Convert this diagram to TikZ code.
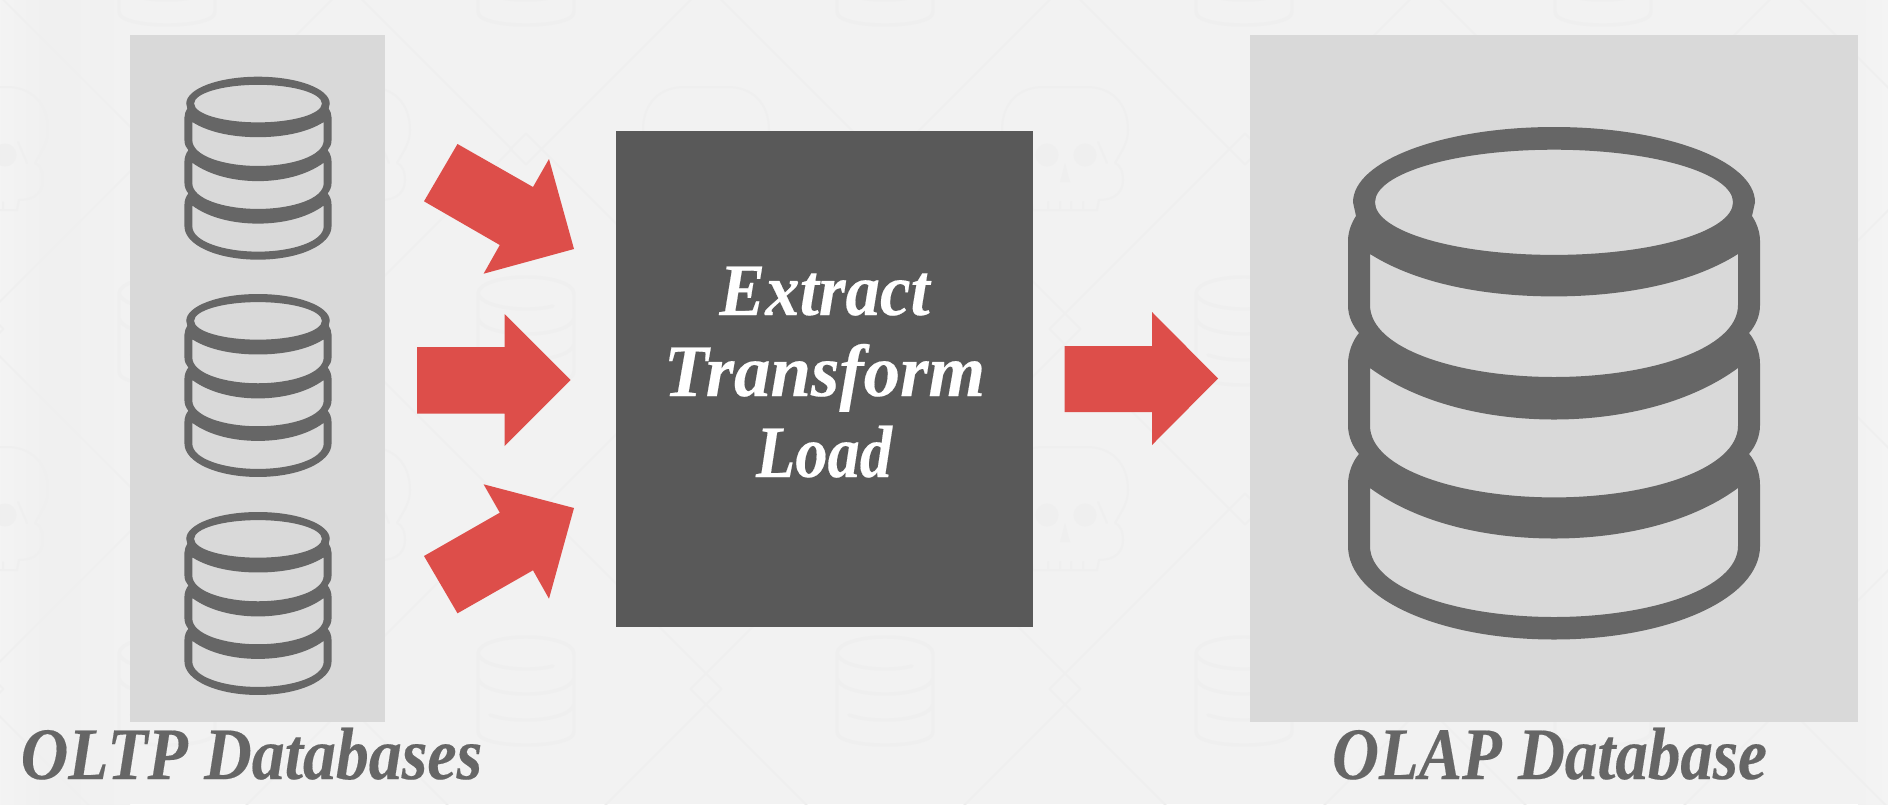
\documentclass[tikz,border=0pt]{standalone}
\usepackage{fontspec}
\usepackage{graphicx}
\setmainfont{Liberation Serif}
\newfontfamily\heavyf{Liberation Serif}[BoldItalicFeatures={FakeBold=0.25}]
\definecolor{bgc}{HTML}{F2F2F2}
\definecolor{wm}{HTML}{EFEFEF}
\definecolor{panelc}{HTML}{D9D9D9}
\definecolor{etlc}{HTML}{595959}
\definecolor{arrowc}{HTML}{DD4E4A}
\definecolor{dbdark}{HTML}{666666}
\tikzset{
  wmline/.style={draw=wm,line width=1pt,line join=round,line cap=round},
  panelbox/.style={fill=panelc,inner sep=0pt,draw=none},
  etlbox/.style={fill=etlc,inner sep=0pt,draw=none,minimum width=208.5pt,minimum height=248pt},
  blockarrow/.style={fill=arrowc,draw=none},
  labeltext/.style={font=\heavyf\fontsize{37}{37}\selectfont\bfseries\itshape,text=dbdark,anchor=base,inner sep=0pt},
  etltext/.style={font=\heavyf\fontsize{37}{37}\selectfont\bfseries\itshape,text=white,anchor=base,inner sep=0pt},
  bigdb/.pic={
    \fill[dbdark,even odd rule]
      (-198,89) -- (-201,75.3) .. controls (-201,33.7) and (-111,0) .. (0,0)
      .. controls (111,0) and (201,33.7) .. (201,75.3) -- (198,89)
      .. controls (202,95) and (206,104) .. (206,114) -- (206,178)
      .. controls (206,190) and (201,199) .. (195,206)
      .. controls (201,213) and (206,225) .. (206,237) -- (206,298)
      .. controls (206,310) and (201,320) .. (195,327)
      .. controls (201,334) and (206,345) .. (206,358) -- (206,419)
      .. controls (206,472) and (114,512.5) .. (0,512.5)
      .. controls (-114,512.5) and (-206,472) .. (-206,419) -- (-206,358)
      .. controls (-206,345) and (-201,334) .. (-195,327)
      .. controls (-201,320) and (-206,310) .. (-206,298) -- (-206,237)
      .. controls (-206,225) and (-201,213) .. (-195,206)
      .. controls (-201,199) and (-206,190) .. (-206,178) -- (-206,114)
      .. controls (-206,104) and (-202,95) .. (-198,89) -- cycle
      (-179,75.3) .. controls (-179,46.3) and (-98.9,22.7) .. (0,22.7)
      .. controls (98.9,22.7) and (179,46.3) .. (179,75.3)
      .. controls (179,104.3) and (98.9,127.9) .. (0,127.9)
      .. controls (-98.9,127.9) and (-179,104.3) .. (-179,75.3) -- cycle
      (-184,127) .. controls (-135,158) and (-65,169.4) .. (0,169.4)
      .. controls (65,169.4) and (135,158) .. (184,127) -- (184,178)
      .. controls (184,222) and (95,250) .. (0,250)
      .. controls (-95,250) and (-184,222) .. (-184,178) -- cycle
      (-184,241) .. controls (-135,277) and (-65,292.5) .. (0,292.5)
      .. controls (65,292.5) and (135,277) .. (184,241) -- (184,298.6)
      .. controls (184,342) and (95,370.4) .. (0,370.4)
      .. controls (-95,370.4) and (-184,342) .. (-184,298.6) -- cycle
      (-184,361) .. controls (-135,397) and (-65,411.5) .. (0,411.5)
      .. controls (65,411.5) and (135,397) .. (184,361) -- (184,419)
      .. controls (184,462) and (95,490) .. (0,490)
      .. controls (-95,490) and (-184,462) .. (-184,419) -- cycle;
  },
  wmdb/.pic={
    \draw[wmline,line width=1.7pt]
      (-48,17) .. controls (-48,7) and (-27,0) .. (0,0) .. controls (27,0) and (48,7) .. (48,17)
      -- (48,95) .. controls (48,103) and (27,108) .. (0,108) .. controls (-27,108) and (-48,103) .. (-48,95) -- cycle
      (-48,17) .. controls (-44,27) and (-22,32) .. (0,32) .. controls (10,32) and (20,31) .. (27,29)
      (-48,42) .. controls (-44,52) and (-22,57) .. (0,57) .. controls (22,57) and (44,52) .. (48,42)
      (-36,78) .. controls (-24,82) and (-12,83) .. (0,83) .. controls (22,83) and (44,78) .. (48,68);
  },
  wmskull/.pic={
    \draw[wmline]
      (-32,123) -- (32,123) -- (34,113) .. controls (50,113) and (58,105) .. (58,93)
      .. controls (58,84) and (55,78) .. (50,76) .. controls (58,62) and (63,55) .. (63,43)
      .. controls (63,15) and (45,0) .. (22,0) -- (-22,0)
      .. controls (-45,0) and (-63,15) .. (-63,43) .. controls (-63,55) and (-58,62) .. (-50,76)
      .. controls (-55,78) and (-58,84) .. (-58,93) .. controls (-58,105) and (-50,113) .. (-34,113) -- cycle
      (33,55) -- (42,76) (-33,55) -- (-42,76)
      (-17,115) -- (-17,123) (-5,115) -- (-5,123) (6,115) -- (6,123) (18,115) -- (18,123);
    \fill[wm] (-18,68) circle[radius=11.5] (20,68) circle[radius=11.5];
    \fill[wm] (0,76) -- (5,95) -- (-5,95) -- cycle;
  }
}
\begin{document}
\begin{tikzpicture}[x=0.5pt,y=-0.5pt]
\useasboundingbox (0,0) rectangle (1888,804);
\begin{scope}
  \clip (0,0) rectangle (1888,804);
  \fill[bgc] (0,0) rectangle (1888,804);
  \shade[left color=white!12!bgc,right color=bgc!99!black,draw=none] (0,0) rectangle (50,804);
  \shade[left color=bgc!99!black,right color=bgc,draw=none] (50,0) rectangle (130,804);
  \shade[left color=bgc,right color=white!15!bgc,draw=none] (1858,0) rectangle (1888,804);
  % watermark lattice
  \foreach \r in {-31,329,689} \foreach \c in {-12,347,706,1065,1425,1785} {
    \draw[wmline] (\c,\r-15.5) -- ++(15.5,15.5) -- ++(-15.5,15.5) -- ++(-15.5,-15.5) -- cycle;
    \draw[wmline] (\c,\r-15.5) -- (\c+164.5,\r-180);
    \draw[wmline] (\c,\r-15.5) -- (\c-164.5,\r-180);
    \draw[wmline] (\c,\r+15.5) -- (\c+164.5,\r+180);
    \draw[wmline] (\c,\r+15.5) -- (\c-164.5,\r+180);
  }
  \foreach \r in {149,509} \foreach \c in {167,526,886,1245,1605} {
    \draw[wmline] (\c,\r-15.5) -- ++(15.5,15.5) -- ++(-15.5,15.5) -- ++(-15.5,-15.5) -- cycle;
  }
  \foreach \r in {-83,277,637} \foreach \c in {167,526,885,1244,1603} {
    \pic at (\c,\r) {wmdb};
  }
  \foreach \r in {87,447} \foreach \c in {-15,347,706,1065,1424,1784} {
    \pic at (\c,\r) {wmskull};
  }
\end{scope}
% panels
\node[panelbox,minimum width=127.5pt,minimum height=343.5pt] (oltp) at (257.5,378.5) {};
\node[panelbox,minimum width=304pt,minimum height=343.5pt] (olap) at (1554,378.5) {};
% database icons
\pic[scale=0.357] at (258,76.7) {bigdb};
\pic[scale=0.357] at (258,294) {bigdb};
\pic[scale=0.357] at (258,512) {bigdb};
\pic at (1554,127) {bigdb};
% arrows
\fill[blockarrow] (457.5,144) -- (533,187) -- (549,159) -- (574,249) -- (483.6,273.7) -- (499.8,245) -- (424,201.3) -- cycle;
\fill[blockarrow] (417,347) -- (504.5,347) -- (504.5,314) -- (570.6,380) -- (504.5,446) -- (504.5,413.7) -- (417,413.7) -- cycle;
\fill[blockarrow] (424,556) -- (499.8,512.7) -- (483.6,484.3) -- (574,508) -- (549,598.7) -- (533,570.3) -- (457.5,613.3) -- cycle;
\fill[blockarrow] (1064.5,346) -- (1152,346) -- (1152,312) -- (1218,378.5) -- (1152,445) -- (1152,412) -- (1064.5,412) -- cycle;
% ETL box
\node[etlbox] (etl) at (824.5,379) {};
\node[etltext] (t1) at (824.5,315) {\scalebox{0.93}[1]{Extract}};
\node[etltext] (t2) at (824.5,396) {\scalebox{0.985}[1]{Transform}};
\node[etltext] (t3) at (824,477) {\scalebox{0.87}[1]{Load}};
% captions
\node[labeltext] (l1) at (251.5,779) {\scalebox{0.89}[1]{OLTP Databases}};
\node[labeltext] (l2) at (1549.5,779) {\scalebox{0.878}[1]{OLAP Database}};
\end{tikzpicture}
\end{document}
